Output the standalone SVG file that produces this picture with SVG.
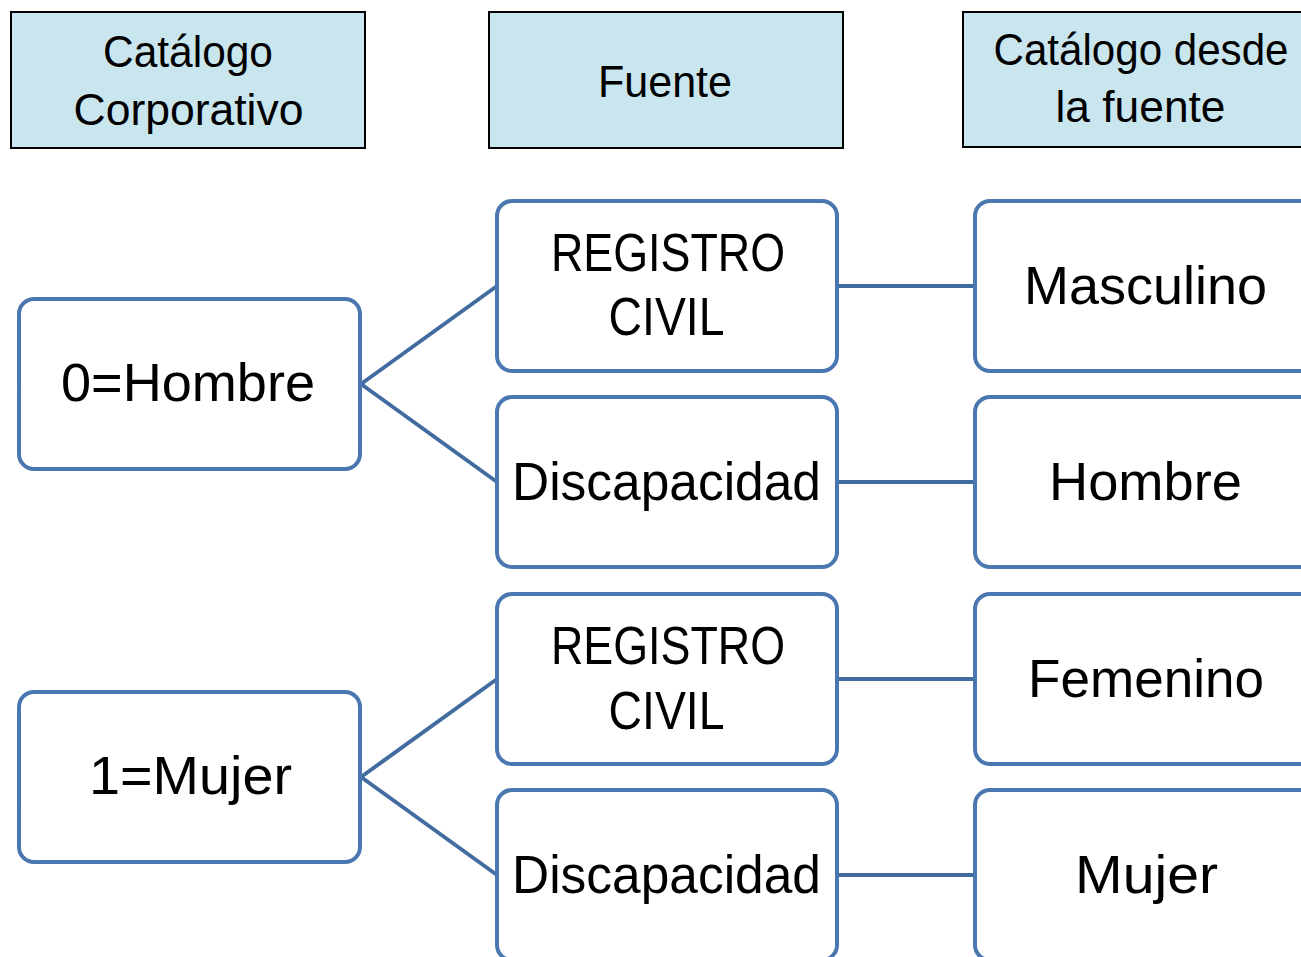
<svg xmlns="http://www.w3.org/2000/svg" width="1301" height="957" viewBox="0 0 1301 957">
<style>
.hdr{fill:#C9E5EE;stroke:#000;stroke-width:2}
.box{fill:#fff;stroke:#4A77AF;stroke-width:4}
.con{stroke:#426C9F;stroke-width:4;fill:none;stroke-linecap:round}
text{font-family:"Liberation Sans",Arial,sans-serif;fill:#000;text-anchor:middle}
.h{font-size:44px}
.b{font-size:53px}
</style>
<rect width="1301" height="957" fill="#fff"/>
<g id="connectors">
<line class="con" x1="361" y1="384" x2="497" y2="286"/>
<line class="con" x1="361" y1="384" x2="497" y2="482"/>
<line class="con" x1="361" y1="777" x2="497" y2="679"/>
<line class="con" x1="361" y1="777" x2="497" y2="875"/>
<line class="con" x1="837" y1="286" x2="975" y2="286"/>
<line class="con" x1="837" y1="482" x2="975" y2="482"/>
<line class="con" x1="837" y1="679" x2="975" y2="679"/>
<line class="con" x1="837" y1="875" x2="975" y2="875"/>
</g>
<g id="hdr-corporativo">
<rect class="hdr" x="11" y="12" width="354" height="136"/>
<text class="h" x="188" y="67" textLength="170" lengthAdjust="spacingAndGlyphs">Catálogo</text>
<text class="h" x="188.5" y="125" textLength="230" lengthAdjust="spacingAndGlyphs">Corporativo</text>
</g>
<g id="hdr-fuente">
<rect class="hdr" x="489" y="12" width="354" height="136"/>
<text class="h" x="665" y="97" textLength="134" lengthAdjust="spacingAndGlyphs">Fuente</text>
</g>
<g id="hdr-catalogo-fuente">
<rect class="hdr" x="963" y="12" width="354" height="135"/>
<text class="h" x="1141" y="65" textLength="295" lengthAdjust="spacingAndGlyphs">Catálogo desde</text>
<text class="h" x="1140.5" y="122" textLength="170" lengthAdjust="spacingAndGlyphs">la fuente</text>
</g>
<g id="n-hombre">
<rect class="box" x="19" y="299" width="341" height="170" rx="15"/>
<text class="b" x="188" y="401" textLength="254" lengthAdjust="spacingAndGlyphs">0=Hombre</text>
</g>
<g id="n-mujer">
<rect class="box" x="19" y="692" width="341" height="170" rx="15"/>
<text class="b" x="190.5" y="794" textLength="203" lengthAdjust="spacingAndGlyphs">1=Mujer</text>
</g>
<g id="n-rc1">
<rect class="box" x="497" y="201" width="340" height="170" rx="15"/>
<text class="b" x="668" y="271" textLength="234" lengthAdjust="spacingAndGlyphs">REGISTRO</text>
<text class="b" x="666.5" y="335" textLength="116" lengthAdjust="spacingAndGlyphs">CIVIL</text>
</g>
<g id="n-disc1">
<rect class="box" x="497" y="397" width="340" height="170" rx="15"/>
<text class="b" x="666.5" y="500" textLength="309" lengthAdjust="spacingAndGlyphs">Discapacidad</text>
</g>
<g id="n-rc2">
<rect class="box" x="497" y="594" width="340" height="170" rx="15"/>
<text class="b" x="668" y="664" textLength="234" lengthAdjust="spacingAndGlyphs">REGISTRO</text>
<text class="b" x="666.5" y="729" textLength="116" lengthAdjust="spacingAndGlyphs">CIVIL</text>
</g>
<g id="n-disc2">
<rect class="box" x="497" y="790" width="340" height="170" rx="15"/>
<text class="b" x="666.5" y="893" textLength="309" lengthAdjust="spacingAndGlyphs">Discapacidad</text>
</g>
<g id="n-masculino">
<rect class="box" x="975" y="201" width="340" height="170" rx="15"/>
<text class="b" x="1145.5" y="304" textLength="243" lengthAdjust="spacingAndGlyphs">Masculino</text>
</g>
<g id="n-hombre2">
<rect class="box" x="975" y="397" width="340" height="170" rx="15"/>
<text class="b" x="1145.5" y="500" textLength="193" lengthAdjust="spacingAndGlyphs">Hombre</text>
</g>
<g id="n-femenino">
<rect class="box" x="975" y="594" width="340" height="170" rx="15"/>
<text class="b" x="1146" y="697" textLength="236" lengthAdjust="spacingAndGlyphs">Femenino</text>
</g>
<g id="n-mujer2">
<rect class="box" x="975" y="790" width="340" height="170" rx="15"/>
<text class="b" x="1146.5" y="893" textLength="143" lengthAdjust="spacingAndGlyphs">Mujer</text>
</g>
</svg>
